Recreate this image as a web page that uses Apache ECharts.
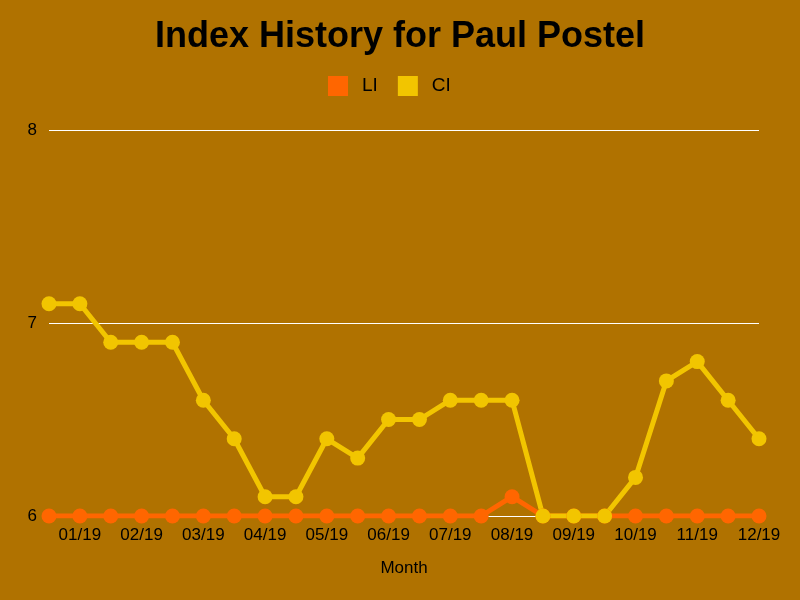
<!DOCTYPE html>
<html>
<head>
<meta charset="utf-8">
<script src="https://cdn.jsdelivr.net/npm/echarts@6/dist/echarts.min.js"></script>
<style>
  html, body { margin: 0; padding: 0; background: #b07200; }
  #chart { width: 800px; height: 600px; }
</style>
</head>
<body>
<div id="chart"></div>
<script>
// half-month steps, label shown on every second point
const months = ['12/18b', '01/19', '01/19b', '02/19', '02/19b', '03/19', '03/19b', '04/19',
  '04/19b', '05/19', '05/19b', '06/19', '06/19b', '07/19', '07/19b', '08/19',
  '08/19b', '09/19', '09/19b', '10/19', '10/19b', '11/19', '11/19b', '12/19']
const liValues = [6, 6, 6, 6, 6, 6, 6, 6, 6, 6, 6, 6, 6, 6, 6, 6.1, 6, 6, 6, 6, 6, 6, 6, 6]
const ciValues = [7.1, 7.1, 6.9, 6.9, 6.9, 6.6, 6.4, 6.1, 6.1, 6.4, 6.3, 6.5,
  6.5, 6.6, 6.6, 6.6, 6.0, 6.0, 6.0, 6.2, 6.7, 6.8, 6.6, 6.4]
const yTicks = [6, 7, 8]

const chart = echarts.init(document.getElementById('chart'))

const option = {
  backgroundColor: '#b07200',
  textStyle: { fontFamily: 'Liberation Sans, Arial, sans-serif' },
  title: {
    text: 'Index History for Paul Postel',
    left: 'center',
    top: 14,
    textStyle: { fontSize: 36, fontWeight: 'bold', color: '#000' }
  },
  legend: {
    top: 71,
    left: 323,
    itemWidth: 20,
    itemHeight: 20,
    itemGap: 20,
    icon: 'rect',
    textStyle: { fontSize: 19, color: '#000', padding: [0, 0, 0, 9] },
    data: ['LI', 'CI']
  },
  grid: { left: 49, right: 41, top: 130, bottom: 84 },
  xAxis: {
    type: 'category',
    data: months,
    boundaryGap: false,
    name: 'Month',
    nameLocation: 'middle',
    nameGap: 44,
    nameTextStyle: { fontSize: 17, color: '#000' },
    axisLine: { show: false },
    axisTick: { show: false },
    axisLabel: {
      color: '#000',
      fontSize: 17,
      margin: 11,
      interval: (i) => i % 2 === 1,
      formatter: (v) => v
    }
  },
  yAxis: {
    type: 'value',
    min: yTicks[0],
    max: yTicks[yTicks.length - 1],
    interval: 1,
    axisLine: { show: false },
    axisTick: { show: false },
    axisLabel: { color: '#000', fontSize: 17, margin: 12 },
    splitLine: { lineStyle: { color: '#ffffff', width: 1 } }
  },
  series: [
    {
      name: 'LI',
      type: 'line',
      data: liValues,
      color: '#ff6600',
      symbol: 'circle',
      symbolSize: 15,
      lineStyle: { width: 5 }
    },
    {
      name: 'CI',
      type: 'line',
      data: ciValues,
      color: '#f2c500',
      symbol: 'circle',
      symbolSize: 15,
      lineStyle: { width: 5 }
    }
  ]
}

chart.setOption(option)
</script>
</body>
</html>
